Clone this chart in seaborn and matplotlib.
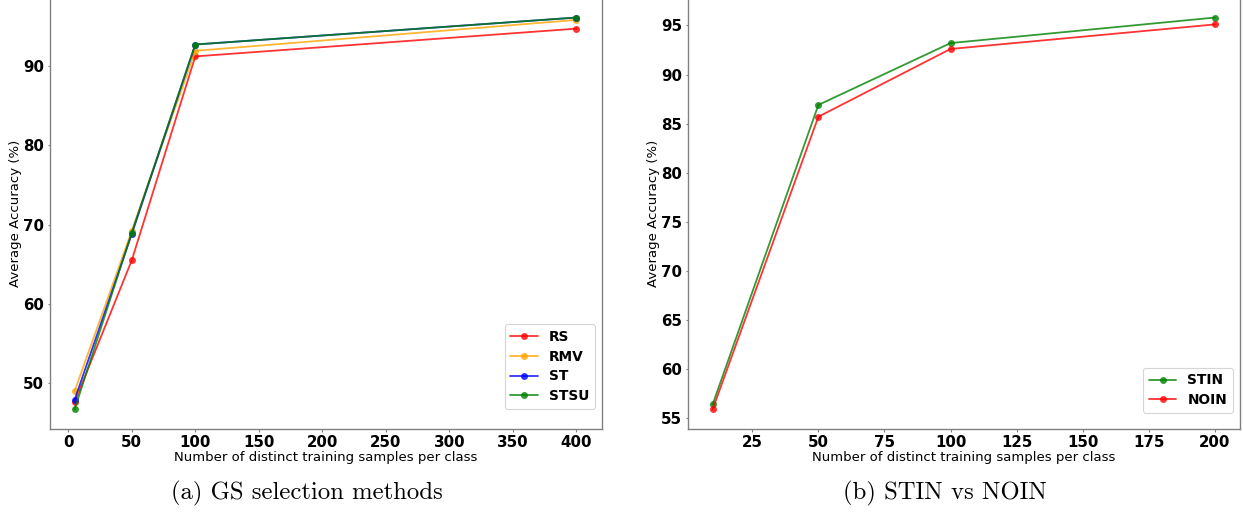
import numpy as np
import pandas as pd
import seaborn as sns
import matplotlib
matplotlib.use("Agg")
import matplotlib.pyplot as plt

# (a) GS selection methods
samples_a = [5, 50, 100, 400]
rs = [47.6, 65.5, 91.2, 94.7]
rmv = [49.0, 69.2, 91.9, 95.8]
st = [47.9, 68.8, 92.7, 96.1]
stsu = [46.7, 69.0, 92.7, 96.1]
methods_a = ["RS", "RMV", "ST", "STSU"]
colors_a = ["red", "orange", "blue", "green"]

# (b) STIN vs NOIN
samples_b = [10, 50, 100, 200]
stin = [56.4, 86.9, 93.2, 95.8]
noin = [55.9, 85.7, 92.6, 95.1]
methods_b = ["STIN", "NOIN"]
colors_b = ["green", "red"]

xlabel = "Number of distinct training samples per class"
ylabel = "Average Accuracy (%)"
captions = ["(a) GS selection methods", "(b) STIN vs NOIN"]


def long_form(x, series, names):
    rows = []
    for name, vals in zip(names, series):
        for xi, yi in zip(x, vals):
            rows.append({"samples": xi, "accuracy": yi, "method": name})
    return pd.DataFrame(rows)


df_a = long_form(samples_a, [rs, rmv, st, stsu], methods_a)
df_b = long_form(samples_b, [stin, noin], methods_b)

sns.set_style("white")
plt.rcParams["font.family"] = ["DejaVu Sans"]
plt.rcParams["text.color"] = "black"
plt.rcParams["axes.labelcolor"] = "black"

W, H = 1243, 514
fig = plt.figure(figsize=(W / 100, H / 100), dpi=100)
ax_a = fig.add_axes([49.5 / W, 1 - 429 / H, (601.5 - 49.5) / W, 429 / H + 0.004])
ax_b = fig.add_axes([687.5 / W, 1 - 429 / H, (1240 - 687.5) / W, 429 / H + 0.004])

spine_color = "#808080"


def draw(ax, df, names, colors, xticks, yticks, legend_corner):
    sns.lineplot(data=df, x="samples", y="accuracy", hue="method",
                 hue_order=names, palette=colors, marker="o",
                 markersize=5, markeredgewidth=0, linewidth=1.3,
                 alpha=0.8, ax=ax)
    ax.set_xlabel(xlabel, fontsize=9.5, labelpad=1)
    ax.set_ylabel(ylabel, fontsize=9.5, labelpad=0.5)
    ax.set_xticks(xticks)
    ax.set_yticks(yticks)
    for s in ax.spines.values():
        s.set_visible(True)
        s.set_color(spine_color)
        s.set_linewidth(1.0)
    ax.tick_params(axis="both", which="major", length=1.8, width=0.8,
                   color=spine_color, labelcolor="black", labelsize=10.8,
                   pad=2.3, bottom=True, left=True)
    for lbl in ax.get_xticklabels() + ax.get_yticklabels():
        lbl.set_fontweight("bold")
    leg = ax.legend(loc="lower right",
                    bbox_to_anchor=(legend_corner[0] / W, 1 - legend_corner[1] / H),
                    bbox_transform=fig.transFigure, borderaxespad=0,
                    prop={"weight": "bold", "size": 9.9},
                    handlelength=2.0, borderpad=0.42, labelspacing=0.42,
                    frameon=True, fancybox=True, framealpha=0.8,
                    edgecolor="#cccccc")
    leg.get_frame().set_linewidth(0.8)


draw(ax_a, df_a, methods_a, colors_a,
     [0, 50, 100, 150, 200, 250, 300, 350, 400], [50, 60, 70, 80, 90],
     (595, 409))
draw(ax_b, df_b, methods_b, colors_b,
     [25, 50, 75, 100, 125, 150, 175, 200],
     [55, 60, 65, 70, 75, 80, 85, 90, 95],
     (1233, 413))

fig.text(307 / W, 1 - 493 / H, captions[0], family="cmr10",
         fontsize=17.8, ha="center", va="center")
fig.text(945 / W, 1 - 493 / H, captions[1], family="cmr10",
         fontsize=17.8, ha="center", va="center")

fig.savefig("out.png", dpi=100)
